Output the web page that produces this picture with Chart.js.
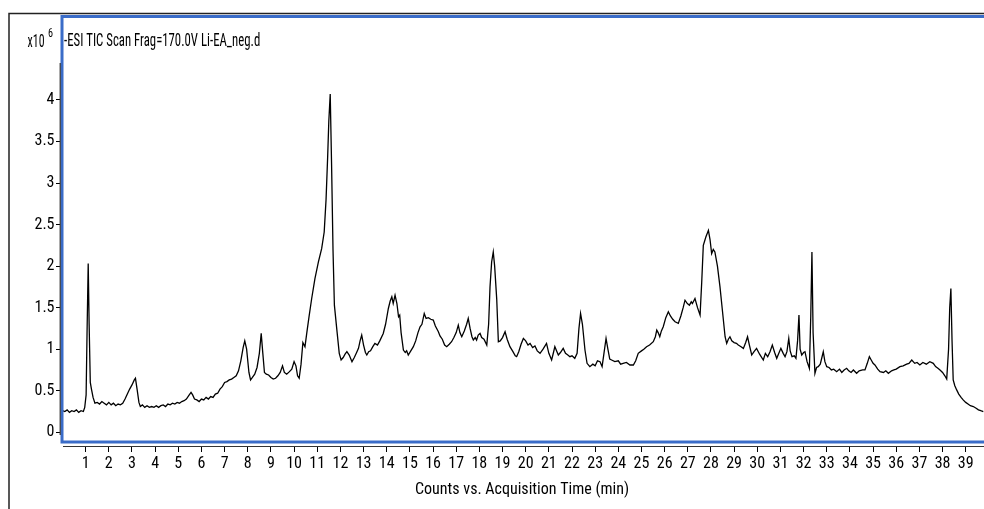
<!DOCTYPE html>
<html>
<head>
<meta charset="utf-8">
<script src="https://cdn.jsdelivr.net/npm/chart.js@4.4.1/dist/chart.umd.min.js"></script>
<style>
  html, body { margin: 0; padding: 0; background: #fff; }
  #wrap { width: 984px; height: 509px; }
</style>
</head>
<body>
<div id="wrap"><canvas id="tic" width="984" height="509"></canvas></div>
<script>
// Cromatograma TIC (ESI negativo) - tempo em min, contagens em x10^6
const FONT = "'Liberation Sans Narrow', 'Arial Narrow', 'Roboto Condensed', 'DejaVu Sans Condensed', sans-serif";
const TRACE_LABEL = '-ESI TIC Scan Frag=170.0V Li-EA_neg.d';
const X_TITLE = 'Counts vs. Acquisition Time (min)';
const X_TICKS = [1, 2, 3, 4, 5, 6, 7, 8, 9, 10, 11, 12, 13, 14, 15, 16, 17, 18, 19, 20,
  21, 22, 23, 24, 25, 26, 27, 28, 29, 30, 31, 32, 33, 34, 35, 36, 37, 38, 39];
const Y_TICKS = [0, 0.5, 1, 1.5, 2, 2.5, 3, 3.5, 4];

const tempo = [
  0.00, 0.10, 0.20, 0.30, 0.40, 0.50, 0.60, 0.70, 0.80, 0.90, 0.96, 1.02, 1.06, 1.11, 1.15, 1.20, 1.25, 1.32, 1.40, 1.50,
  1.60, 1.70, 1.80, 1.90, 2.00, 2.10, 2.20, 2.30, 2.40, 2.50, 2.60, 2.70, 2.80, 2.90, 3.00, 3.10, 3.15, 3.22, 3.30, 3.36,
  3.45, 3.55, 3.65, 3.75, 3.85, 3.95, 4.05, 4.15, 4.25, 4.35, 4.45, 4.55, 4.65, 4.75, 4.85, 4.95, 5.05, 5.15, 5.25, 5.35,
  5.45, 5.55, 5.62, 5.70, 5.80, 5.90, 6.00, 6.10, 6.20, 6.30, 6.40, 6.50, 6.60, 6.70, 6.80, 6.90, 7.00, 7.10, 7.20, 7.30,
  7.40, 7.50, 7.60, 7.70, 7.80, 7.87, 7.95, 8.05, 8.12, 8.20, 8.30, 8.40, 8.50, 8.58, 8.65, 8.72, 8.80, 8.90, 9.00, 9.10,
  9.20, 9.30, 9.40, 9.50, 9.58, 9.68, 9.80, 9.90, 10.00, 10.08, 10.15, 10.22, 10.30, 10.38, 10.47, 10.55, 10.65, 10.76, 10.90, 11.05,
  11.19, 11.30, 11.38, 11.45, 11.50, 11.56, 11.62, 11.68, 11.74, 11.84, 11.95, 12.03, 12.12, 12.20, 12.28, 12.38, 12.50, 12.60, 12.70, 12.78,
  12.85, 12.92, 13.00, 13.08, 13.14, 13.22, 13.30, 13.40, 13.49, 13.60, 13.70, 13.85, 13.95, 14.07, 14.15, 14.22, 14.28, 14.36, 14.44, 14.51,
  14.56, 14.62, 14.72, 14.80, 14.86, 14.93, 15.02, 15.15, 15.25, 15.35, 15.44, 15.52, 15.62, 15.70, 15.80, 15.90, 16.01, 16.10, 16.23, 16.30,
  16.40, 16.50, 16.59, 16.70, 16.80, 16.90, 17.00, 17.09, 17.16, 17.24, 17.35, 17.45, 17.52, 17.60, 17.68, 17.74, 17.82, 17.88, 17.95, 18.03,
  18.10, 18.20, 18.32, 18.40, 18.46, 18.53, 18.60, 18.66, 18.75, 18.82, 18.90, 19.00, 19.11, 19.20, 19.32, 19.45, 19.55, 19.61, 19.70, 19.80,
  19.90, 20.00, 20.10, 20.19, 20.30, 20.40, 20.50, 20.62, 20.75, 20.90, 21.00, 21.12, 21.20, 21.26, 21.35, 21.41, 21.50, 21.62, 21.72, 21.82,
  21.91, 22.00, 22.12, 22.22, 22.30, 22.37, 22.45, 22.56, 22.65, 22.77, 22.90, 23.00, 23.10, 23.21, 23.30, 23.38, 23.47, 23.55, 23.63, 23.71,
  23.85, 24.00, 24.10, 24.21, 24.35, 24.50, 24.65, 24.75, 24.86, 25.00, 25.10, 25.22, 25.35, 25.51, 25.60, 25.66, 25.72, 25.79, 25.86, 25.94,
  26.05, 26.16, 26.25, 26.35, 26.45, 26.59, 26.70, 26.80, 26.88, 26.98, 27.07, 27.15, 27.20, 27.31, 27.42, 27.53, 27.60, 27.67, 27.78, 27.89,
  27.96, 28.03, 28.10, 28.17, 28.28, 28.39, 28.50, 28.61, 28.68, 28.75, 28.82, 28.90, 29.00, 29.10, 29.18, 29.30, 29.40, 29.50, 29.58, 29.66,
  29.76, 29.86, 29.97, 30.10, 30.26, 30.35, 30.45, 30.55, 30.65, 30.75, 30.84, 30.93, 31.02, 31.12, 31.20, 31.28, 31.36, 31.42, 31.50, 31.60,
  31.67, 31.74, 31.80, 31.85, 31.92, 32.00, 32.06, 32.15, 32.25, 32.31, 32.36, 32.41, 32.49, 32.56, 32.63, 32.72, 32.79, 32.85, 32.92, 33.00,
  33.10, 33.20, 33.30, 33.43, 33.55, 33.65, 33.75, 33.86, 33.95, 34.05, 34.15, 34.29, 34.40, 34.55, 34.65, 34.75, 34.84, 34.92, 35.00, 35.08,
  35.20, 35.30, 35.45, 35.55, 35.66, 35.80, 35.90, 36.00, 36.16, 36.30, 36.45, 36.55, 36.67, 36.80, 36.90, 37.02, 37.15, 37.30, 37.45, 37.60,
  37.70, 37.80, 37.89, 38.00, 38.10, 38.18, 38.26, 38.31, 38.36, 38.41, 38.46, 38.53, 38.61, 38.70, 38.80, 38.89, 39.00, 39.10, 39.20, 39.33,
  39.45, 39.55, 39.65, 39.76,
];
const contagens = [
  0.26, 0.25, 0.27, 0.24, 0.26, 0.25, 0.27, 0.24, 0.26, 0.25, 0.30, 0.45, 1.20, 2.03, 1.30, 0.60, 0.52, 0.42, 0.35, 0.36,
  0.34, 0.37, 0.35, 0.33, 0.36, 0.33, 0.35, 0.32, 0.34, 0.33, 0.35, 0.40, 0.46, 0.52, 0.57, 0.63, 0.65, 0.52, 0.36, 0.31,
  0.33, 0.30, 0.32, 0.30, 0.31, 0.30, 0.32, 0.30, 0.32, 0.33, 0.31, 0.34, 0.33, 0.35, 0.34, 0.36, 0.35, 0.37, 0.38, 0.40,
  0.44, 0.48, 0.45, 0.40, 0.39, 0.37, 0.40, 0.39, 0.42, 0.40, 0.43, 0.42, 0.46, 0.47, 0.52, 0.55, 0.60, 0.61, 0.63, 0.64,
  0.66, 0.68, 0.74, 0.86, 1.02, 1.10, 1.00, 0.72, 0.63, 0.66, 0.70, 0.78, 0.95, 1.19, 0.95, 0.72, 0.70, 0.69, 0.66, 0.64,
  0.65, 0.68, 0.72, 0.80, 0.72, 0.70, 0.73, 0.76, 0.85, 0.80, 0.68, 0.65, 0.82, 1.08, 1.03, 1.20, 1.40, 1.61, 1.85, 2.05,
  2.21, 2.41, 2.80, 3.32, 3.75, 4.07, 3.20, 2.20, 1.53, 1.25, 0.95, 0.87, 0.90, 0.94, 0.97, 0.93, 0.85, 0.90, 0.96, 1.01,
  1.10, 1.17, 1.05, 0.96, 0.93, 0.97, 0.98, 1.03, 1.07, 1.05, 1.10, 1.19, 1.30, 1.49, 1.58, 1.63, 1.55, 1.65, 1.55, 1.39,
  1.41, 1.20, 0.99, 0.96, 0.98, 0.93, 0.97, 1.03, 1.10, 1.20, 1.27, 1.30, 1.43, 1.37, 1.38, 1.36, 1.35, 1.28, 1.21, 1.16,
  1.12, 1.05, 1.03, 1.06, 1.09, 1.14, 1.20, 1.29, 1.20, 1.15, 1.22, 1.30, 1.37, 1.25, 1.15, 1.11, 1.14, 1.11, 1.17, 1.19,
  1.14, 1.12, 1.05, 1.30, 1.75, 2.05, 2.17, 2.00, 1.60, 1.09, 1.10, 1.14, 1.21, 1.12, 1.03, 0.97, 0.92, 0.91, 0.97, 1.06,
  1.13, 1.10, 1.05, 1.07, 1.02, 1.04, 0.98, 0.95, 1.00, 1.07, 0.95, 0.87, 0.96, 1.03, 0.97, 0.93, 0.96, 1.01, 0.95, 0.93,
  0.91, 0.92, 0.89, 0.95, 1.25, 1.43, 1.30, 0.99, 0.83, 0.79, 0.82, 0.80, 0.86, 0.85, 0.79, 0.95, 1.13, 1.00, 0.88, 0.87,
  0.85, 0.86, 0.82, 0.83, 0.84, 0.81, 0.81, 0.86, 0.95, 0.98, 1.00, 1.03, 1.05, 1.09, 1.15, 1.23, 1.20, 1.15, 1.22, 1.27,
  1.38, 1.45, 1.40, 1.36, 1.33, 1.31, 1.40, 1.50, 1.59, 1.55, 1.53, 1.57, 1.55, 1.61, 1.50, 1.41, 1.80, 2.25, 2.35, 2.43,
  2.32, 2.15, 2.20, 2.17, 2.00, 1.75, 1.45, 1.15, 1.07, 1.12, 1.15, 1.10, 1.08, 1.07, 1.05, 1.03, 1.01, 1.08, 1.15, 1.05,
  0.93, 0.97, 1.01, 0.94, 0.87, 0.95, 0.91, 0.97, 1.05, 0.96, 0.89, 0.95, 1.01, 0.95, 0.91, 0.97, 1.13, 0.98, 0.91, 0.92,
  0.89, 1.10, 1.41, 1.00, 0.93, 0.96, 0.97, 0.85, 0.77, 1.40, 2.17, 1.20, 0.71, 0.78, 0.79, 0.82, 0.90, 0.97, 0.85, 0.79,
  0.78, 0.75, 0.76, 0.73, 0.76, 0.72, 0.75, 0.77, 0.74, 0.72, 0.75, 0.71, 0.74, 0.75, 0.75, 0.83, 0.91, 0.87, 0.83, 0.81,
  0.76, 0.73, 0.72, 0.74, 0.71, 0.74, 0.75, 0.76, 0.79, 0.80, 0.82, 0.83, 0.87, 0.83, 0.84, 0.81, 0.84, 0.82, 0.85, 0.83,
  0.79, 0.77, 0.75, 0.72, 0.68, 0.64, 1.00, 1.50, 1.73, 1.10, 0.63, 0.56, 0.51, 0.46, 0.42, 0.39, 0.36, 0.34, 0.32, 0.31,
  0.29, 0.27, 0.26, 0.25,
];

// texto estreito: comprime na horizontal para lembrar a fonte do relatorio
function textoEstreito(ctx, txt, x, y, px, sx, align) {
  ctx.save();
  ctx.font = px + 'px ' + FONT;
  ctx.textAlign = align;
  ctx.translate(x, y);
  ctx.scale(sx, 1);
  ctx.fillText(txt, 0, 0);
  ctx.restore();
}

// moldura, retangulo azul, eixos e textos fixos do relatorio
const moldura = {
  id: 'moldura',
  afterDatasetsDraw(chart) {
    const { ctx, chartArea: a } = chart;
    ctx.save();
    ctx.strokeStyle = '#222';
    ctx.lineWidth = 1.5;
    ctx.beginPath();
    ctx.moveTo(9, 509); ctx.lineTo(9, 13.5); ctx.lineTo(984, 13.5);
    ctx.stroke();

    ctx.strokeStyle = '#3a6cc8';
    ctx.lineWidth = 3;
    ctx.strokeRect(62, 16.5, 940, 425.5);

    ctx.strokeStyle = '#333';
    ctx.lineWidth = 1.2;
    ctx.beginPath();
    ctx.moveTo(a.left + 0.2, 63); ctx.lineTo(a.left + 0.2, 435);
    ctx.moveTo(63, a.bottom + 0.5); ctx.lineTo(984, a.bottom + 0.5);
    ctx.stroke();

    ctx.fillStyle = '#000';
    ctx.textBaseline = 'alphabetic';
    textoEstreito(ctx, TRACE_LABEL, 64, 45.5, 18, 0.71, 'left');
    textoEstreito(ctx, 'x10', 44.5, 47, 18, 0.66, 'right');
    textoEstreito(ctx, '6', 48, 37, 12, 0.85, 'left');
    ctx.restore();
  },
};

new Chart(document.getElementById('tic'), {
  type: 'line',
  data: {
    labels: tempo,
    datasets: [{
      data: tempo.map((t, i) => ({ x: t, y: contagens[i] })),
      borderColor: '#000', borderWidth: 1.3, pointRadius: 0, tension: 0,
    }],
  },
  options: {
    responsive: false,
    animation: false,
    devicePixelRatio: 1,
    layout: { padding: { top: 16, left: 0, right: 0, bottom: 0 } },
    plugins: { legend: { display: false }, tooltip: { enabled: false } },
    scales: {
      x: {
        type: 'linear', min: -0.108, max: 39.79,
        afterBuildTicks: (s) => { s.ticks = X_TICKS.map((v) => ({ value: v })); },
        afterFit: (s) => { s.height = 63; },
        grid: { drawOnChartArea: false, drawTicks: true, tickLength: 6, color: '#000', tickWidth: 1 },
        border: { display: false },
        ticks: { color: '#000', font: { family: FONT, size: 16 }, padding: 2, maxRotation: 0, autoSkip: false },
        title: { display: true, text: X_TITLE, color: '#000', font: { family: FONT, size: 16 }, padding: { top: 0, bottom: 9 } },
      },
      y: {
        min: -0.165, max: 5.01,
        afterBuildTicks: (s) => { s.ticks = Y_TICKS.map((v) => ({ value: v })); },
        afterFit: (s) => { s.width = 60; },
        grid: { drawOnChartArea: false, drawTicks: true, tickLength: 4, color: '#000', tickWidth: 1 },
        border: { display: false },
        ticks: { color: '#000', font: { family: FONT, size: 16 }, padding: 1.5, callback: (v) => String(v) },
      },
    },
  },
  plugins: [moldura],
});
</script>
</body>
</html>
